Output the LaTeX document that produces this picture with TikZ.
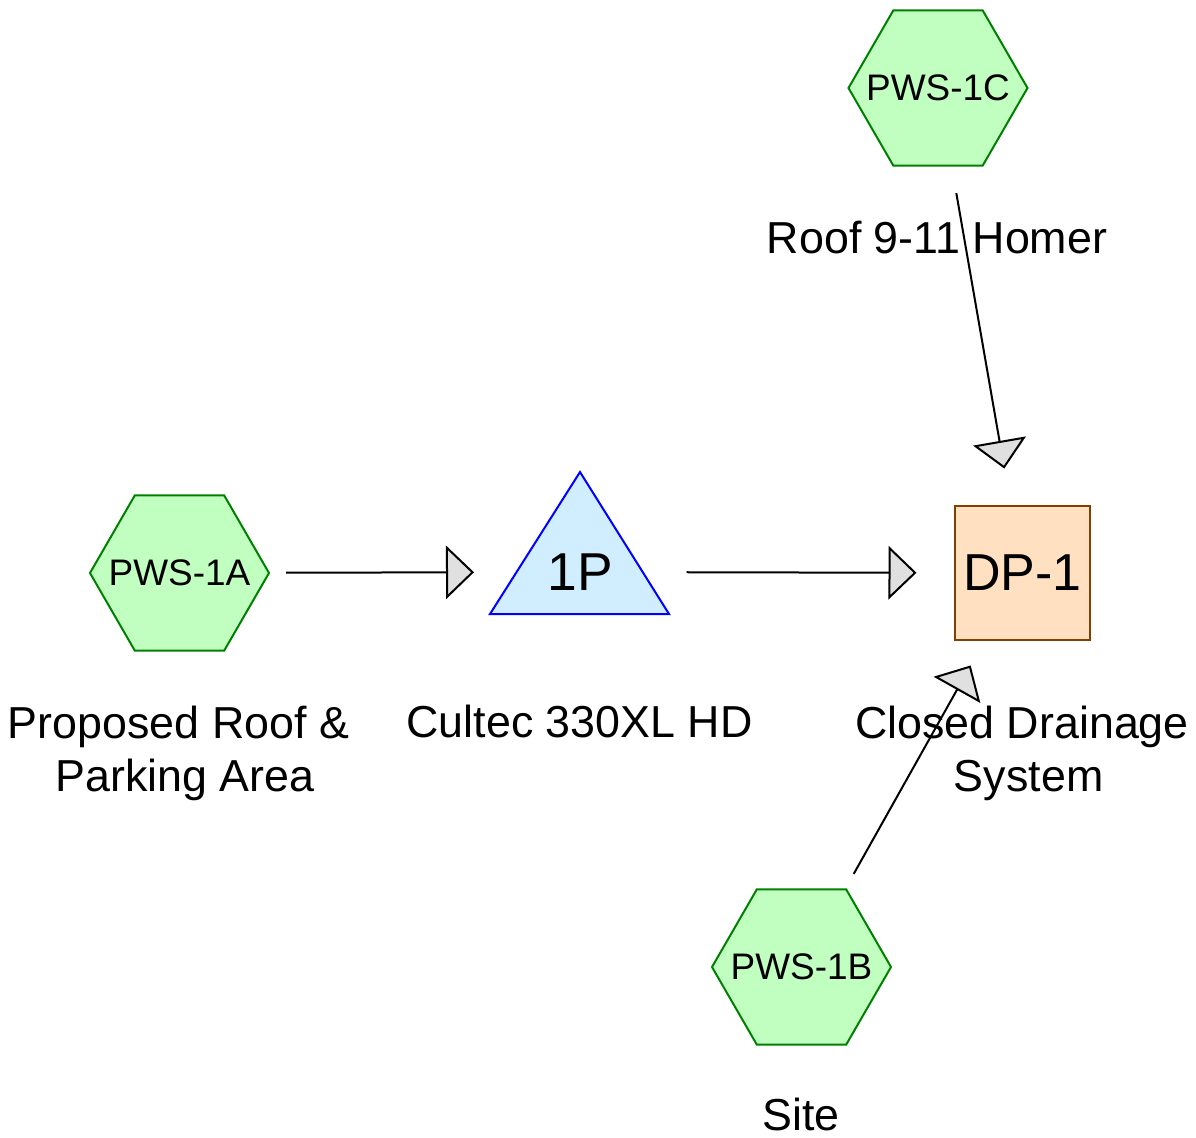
\documentclass[tikz,border=0pt]{standalone}
\usepackage{fontspec}
\setmainfont{Liberation Sans}
\usetikzlibrary{shapes.geometric,arrows.meta}
\definecolor{hexfill}{RGB}{192,255,192}
\definecolor{hexdraw}{RGB}{0,128,0}
\definecolor{pondfill}{RGB}{208,238,255}
\definecolor{ponddraw}{RGB}{0,0,255}
\definecolor{dpfill}{RGB}{255,224,192}
\definecolor{dpdraw}{RGB}{128,64,0}
\definecolor{tipfill}{RGB}{224,224,224}
\tikzset{
  hexnode/.style={regular polygon, regular polygon sides=6, minimum size=134.25pt, inner sep=0pt,
    outer sep=0pt, fill=hexfill, draw=hexdraw, line width=1.5pt,
    label={[font=\fontsize{27.7}{32}\selectfont, inner sep=0pt]center:#1}},
  dpnode/.style={rectangle, minimum width=101.25pt, minimum height=100.5pt, inner sep=0pt,
    fill=dpfill, draw=dpdraw, line width=1.5pt, font=\fontsize{39}{46}\selectfont},
  pondtext/.style={inner sep=0pt, font=\fontsize{40}{46}\selectfont},
  lbl/.style={inner sep=0pt, align=center, font=\fontsize{33.6}{39.75}\selectfont},
  flow/.style={line width=1.5pt, shorten <=80pt, shorten >=79.5pt,
    -{Triangle[length=21pt, width=40pt, fill=tipfill, line width=1.5pt]}}
}
\begin{document}
\begin{tikzpicture}[x=0.75pt, y=-0.75pt]
\useasboundingbox (0,0) rectangle (1196,1138);
% nodes
\node[hexnode=PWS-1A] (a) at (179.5,573) {};
\node[hexnode=PWS-1B] (b) at (801.5,967) {};
\node[hexnode=PWS-1C] (c) at (938,88) {};
\draw[fill=pondfill, draw=ponddraw, line width=1.5pt] (490,614) -- (580,472) -- (669,614) -- cycle;
\node[pondtext] (p) at (580,572) {1P};
\node[dpnode] (dp) at (1022.5,573) {DP-1};
% labels
\node[lbl] (la) at (178.5,753) {Proposed Roof \&\\\hspace*{10pt}Parking Area};
\node[lbl] (lp) at (579.5,721) {Cultec 330XL HD};
\node[lbl] (ldp) at (1022,753) {Closed Drainage\\\hspace*{10pt}System};
\node[lbl] (lb) at (801,1114) {Site};
\node[lbl] (lc) at (937,238) {Roof 9-11 Homer};
% connectors
\draw[flow] (a.center) -- (p.center);
\draw[flow] (p.center) -- (dp.center);
\draw[flow] (c.center) -- (dp.center);
\draw[flow] (b.center) -- (dp.center);
\end{tikzpicture}
\end{document}
